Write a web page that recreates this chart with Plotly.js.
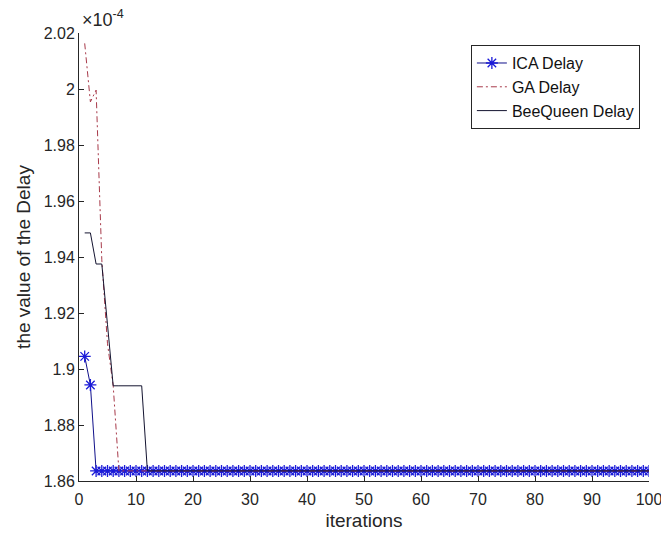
<!DOCTYPE html>
<html>
<head>
<meta charset="utf-8">
<script src="https://cdn.plot.ly/plotly-3.0.1.min.js"></script>
<style>
html,body{margin:0;padding:0;background:#fff;}
#chart{width:661px;height:538px;}
</style>
</head>
<body>
<div id="chart"></div>
<script>
// Values are in units of 1e-4 (axis exponent shown as ×10^-4)
const iterations = [1,2,3,4,5,6,7,8,9,10,11,12,13,14,15,16,17,18,19,20,21,22,23,24,25,26,27,28,29,30,31,32,33,34,35,36,37,38,39,40,41,42,43,44,45,46,47,48,49,50,51,52,53,54,55,56,57,58,59,60,61,62,63,64,65,66,67,68,69,70,71,72,73,74,75,76,77,78,79,80,81,82,83,84,85,86,87,88,89,90,91,92,93,94,95,96,97,98,99,100];

const icaDelay = [1.9045,1.8943,1.8636,1.8636,1.8636,1.8636,1.8636,1.8636,1.8636,1.8636,
1.8636,1.8636,1.8636,1.8636,1.8636,1.8636,1.8636,1.8636,1.8636,1.8636,
1.8636,1.8636,1.8636,1.8636,1.8636,1.8636,1.8636,1.8636,1.8636,1.8636,
1.8636,1.8636,1.8636,1.8636,1.8636,1.8636,1.8636,1.8636,1.8636,1.8636,
1.8636,1.8636,1.8636,1.8636,1.8636,1.8636,1.8636,1.8636,1.8636,1.8636,
1.8636,1.8636,1.8636,1.8636,1.8636,1.8636,1.8636,1.8636,1.8636,1.8636,
1.8636,1.8636,1.8636,1.8636,1.8636,1.8636,1.8636,1.8636,1.8636,1.8636,
1.8636,1.8636,1.8636,1.8636,1.8636,1.8636,1.8636,1.8636,1.8636,1.8636,
1.8636,1.8636,1.8636,1.8636,1.8636,1.8636,1.8636,1.8636,1.8636,1.8636,
1.8636,1.8636,1.8636,1.8636,1.8636,1.8636,1.8636,1.8636,1.8636,1.8636];

const gaDelay = [2.0163,1.9954,1.9996,1.9390,1.9090,1.8940,1.8636,1.8636,1.8636,1.8636,
1.8636,1.8636,1.8636,1.8636,1.8636,1.8636,1.8636,1.8636,1.8636,1.8636,
1.8636,1.8636,1.8636,1.8636,1.8636,1.8636,1.8636,1.8636,1.8636,1.8636,
1.8636,1.8636,1.8636,1.8636,1.8636,1.8636,1.8636,1.8636,1.8636,1.8636,
1.8636,1.8636,1.8636,1.8636,1.8636,1.8636,1.8636,1.8636,1.8636,1.8636,
1.8636,1.8636,1.8636,1.8636,1.8636,1.8636,1.8636,1.8636,1.8636,1.8636,
1.8636,1.8636,1.8636,1.8636,1.8636,1.8636,1.8636,1.8636,1.8636,1.8636,
1.8636,1.8636,1.8636,1.8636,1.8636,1.8636,1.8636,1.8636,1.8636,1.8636,
1.8636,1.8636,1.8636,1.8636,1.8636,1.8636,1.8636,1.8636,1.8636,1.8636,
1.8636,1.8636,1.8636,1.8636,1.8636,1.8636,1.8636,1.8636,1.8636,1.8636];

const beeQueenDelay = [1.9486,1.9486,1.9375,1.9375,1.9158,1.8940,1.8940,1.8940,1.8940,1.8940,
1.8940,1.8636,1.8636,1.8636,1.8636,1.8636,1.8636,1.8636,1.8636,1.8636,
1.8636,1.8636,1.8636,1.8636,1.8636,1.8636,1.8636,1.8636,1.8636,1.8636,
1.8636,1.8636,1.8636,1.8636,1.8636,1.8636,1.8636,1.8636,1.8636,1.8636,
1.8636,1.8636,1.8636,1.8636,1.8636,1.8636,1.8636,1.8636,1.8636,1.8636,
1.8636,1.8636,1.8636,1.8636,1.8636,1.8636,1.8636,1.8636,1.8636,1.8636,
1.8636,1.8636,1.8636,1.8636,1.8636,1.8636,1.8636,1.8636,1.8636,1.8636,
1.8636,1.8636,1.8636,1.8636,1.8636,1.8636,1.8636,1.8636,1.8636,1.8636,
1.8636,1.8636,1.8636,1.8636,1.8636,1.8636,1.8636,1.8636,1.8636,1.8636,
1.8636,1.8636,1.8636,1.8636,1.8636,1.8636,1.8636,1.8636,1.8636,1.8636];

const xTickVals = [0,10,20,30,40,50,60,70,80,90,100];
const yTickVals = [1.86,1.88,1.90,1.92,1.94,1.96,1.98,2.00,2.02];
const yTickText = ['1.86','1.88','1.9','1.92','1.94','1.96','1.98','2','2.02'];
const seriesNames = ['ICA Delay','GA Delay','BeeQueen Delay'];

const FONT = 'Liberation Sans, Arial, sans-serif';
const AX = '#262626';

const traces = [
  {x: iterations, y: icaDelay, name: seriesNames[0], mode: 'lines+markers',
   line: {color: '#10108a', width: 1},
   marker: {symbol: 'asterisk-open', size: 10, color: '#1a1ad8', line: {color: '#1a1ad8', width: 1.3}}},
  {x: iterations, y: gaDelay, name: seriesNames[1], mode: 'lines',
   line: {color: '#a83a4a', width: 1, dash: '6px,3px,2px,3px'}},
  {x: iterations, y: beeQueenDelay, name: seriesNames[2], mode: 'lines',
   line: {color: '#141430', width: 1}}
];

const layout = {
  width: 661, height: 538,
  paper_bgcolor: '#fff', plot_bgcolor: '#fff',
  margin: {l: 79, r: 12, t: 33, b: 57},
  font: {family: FONT, color: AX, size: 16},
  showlegend: true,
  legend: {
    x: 0.984, xanchor: 'right', y: 0.973, yanchor: 'top',
    bgcolor: '#fff', bordercolor: AX, borderwidth: 1,
    font: {family: FONT, size: 16, color: '#111'},
    tracegroupgap: 0
  },
  xaxis: {
    range: [0, 100], tickvals: xTickVals,
    ticks: 'inside', ticklen: 5, tickcolor: AX, tickwidth: 1,
    showline: true, linecolor: AX, linewidth: 1, mirror: false,
    showgrid: false, zeroline: false,
    tickfont: {family: FONT, size: 16, color: AX},
    ticklabelstandoff: 4, ticklabeloverflow: 'allow',
    title: {text: 'iterations', font: {family: FONT, size: 19, color: AX}, standoff: 6}
  },
  yaxis: {
    range: [1.86, 2.02], tickvals: yTickVals, ticktext: yTickText,
    ticks: 'inside', ticklen: 5, tickcolor: AX, tickwidth: 1,
    showline: true, linecolor: AX, linewidth: 1, mirror: false,
    showgrid: false, zeroline: false,
    tickfont: {family: FONT, size: 16, color: AX},
    title: {text: 'the value of the Delay', font: {family: FONT, size: 19, color: AX}, standoff: 8}
  },
  annotations: [{
    xref: 'paper', yref: 'paper', x: 0, y: 1, xanchor: 'left', yanchor: 'bottom',
    text: '×10<sup>-4</sup>', showarrow: false, xshift: 1, yshift: 1,
    font: {family: FONT, size: 18, color: AX}
  }]
};

Plotly.newPlot('chart', traces, layout, {displayModeBar: false, staticPlot: true});
</script>
</body>
</html>
